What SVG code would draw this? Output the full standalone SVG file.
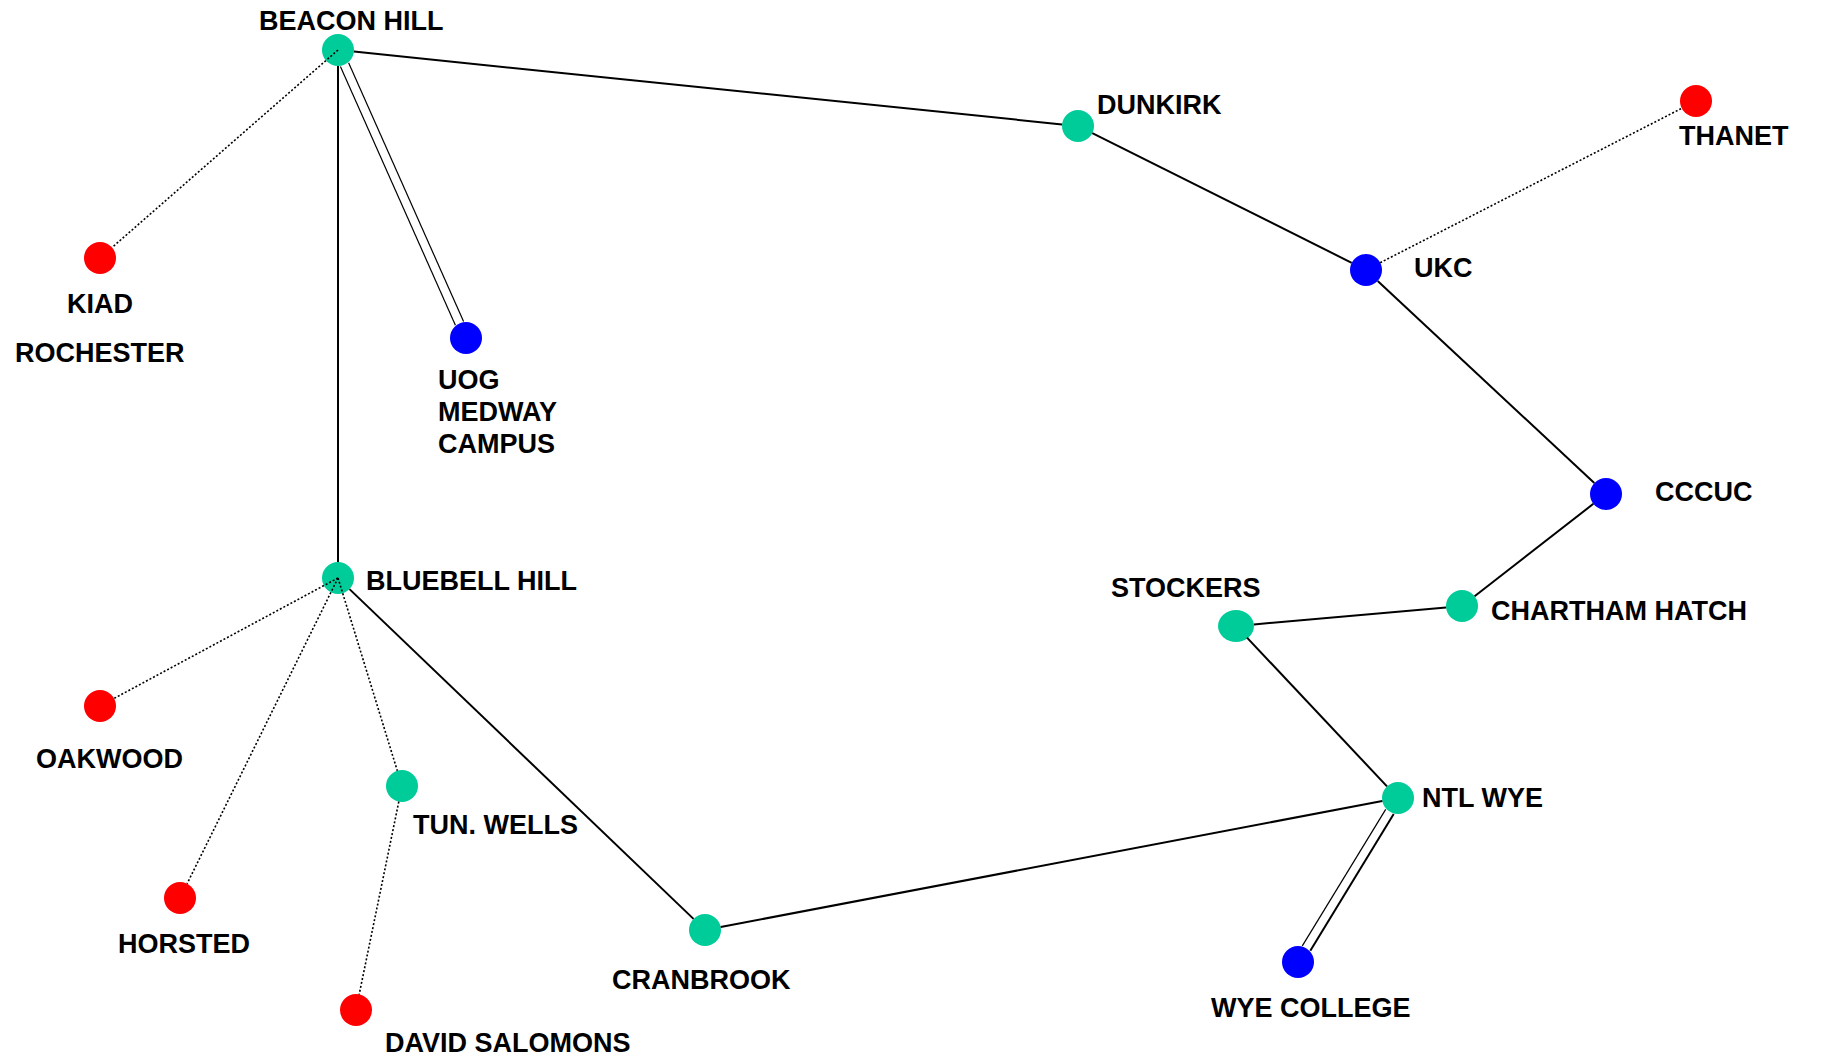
<svg xmlns="http://www.w3.org/2000/svg" width="1822" height="1060" viewBox="0 0 1822 1060">
<style>
text{font-family:"Liberation Sans",Arial,sans-serif;font-weight:bold;font-size:27px;fill:#000}
.g{fill:#00CC99}.r{fill:#FF0000}.b{fill:#0000FF}
.s{stroke:#000;stroke-width:2;fill:none}
.t{stroke:#000;stroke-width:1.2;fill:none}
.d{stroke:#000;stroke-width:1.6;stroke-dasharray:2 2;fill:none}
</style>
<rect width="1822" height="1060" fill="#fff"/>
<g id="nodes">
<g id="beacon-hill"><circle class="g" cx="338" cy="50" r="16"/><text x="259" y="30">BEACON HILL</text></g>
<g id="kiad"><circle class="r" cx="100" cy="258" r="16"/><text x="67" y="313">KIAD</text><text x="15" y="362">ROCHESTER</text></g>
<g id="uog"><circle class="b" cx="466" cy="338" r="16"/><text x="438" y="389">UOG</text><text x="438" y="421">MEDWAY</text><text x="438" y="453">CAMPUS</text></g>
<g id="dunkirk"><circle class="g" cx="1078" cy="126" r="16"/><text x="1097" y="114">DUNKIRK</text></g>
<g id="thanet"><circle class="r" cx="1696" cy="101" r="16"/><text x="1679" y="145">THANET</text></g>
<g id="ukc"><circle class="b" cx="1366" cy="270" r="16"/><text x="1414" y="277">UKC</text></g>
<g id="cccuc"><circle class="b" cx="1606" cy="494" r="16"/><text x="1655" y="501">CCCUC</text></g>
<g id="chartham-hatch"><circle class="g" cx="1462" cy="606" r="16"/><text x="1491" y="620">CHARTHAM HATCH</text></g>
<g id="stockers"><ellipse class="g" cx="1236" cy="626" rx="18" ry="16"/><text x="1111" y="597">STOCKERS</text></g>
<g id="ntl-wye"><circle class="g" cx="1398" cy="798" r="16"/><text x="1422" y="807">NTL WYE</text></g>
<g id="wye-college"><circle class="b" cx="1298" cy="962" r="16"/><text x="1211" y="1017">WYE COLLEGE</text></g>
<g id="cranbrook"><circle class="g" cx="705" cy="930" r="16"/><text x="612" y="989">CRANBROOK</text></g>
<g id="bluebell-hill"><circle class="g" cx="338" cy="578" r="16"/><text x="366" y="590">BLUEBELL HILL</text></g>
<g id="oakwood"><circle class="r" cx="100" cy="706" r="16"/><text x="36" y="768">OAKWOOD</text></g>
<g id="tun-wells"><circle class="g" cx="402" cy="786" r="16"/><text x="413" y="834">TUN. WELLS</text></g>
<g id="horsted"><circle class="r" cx="180" cy="898" r="16"/><text x="118" y="953">HORSTED</text></g>
<g id="david-salomons"><circle class="r" cx="356" cy="1010" r="16"/><text x="385" y="1052">DAVID SALOMONS</text></g>
</g>
<g id="connectors">
<line class="s" x1="353.9" y1="51.6" x2="1062.1" y2="124.4"/>
<line class="s" x1="1092.3" y1="133.2" x2="1351.7" y2="262.8"/>
<line class="s" x1="1377.7" y1="280.9" x2="1594.3" y2="483.1"/>
<line class="s" x1="1593.4" y1="503.8" x2="1474.6" y2="596.2"/>
<line class="s" x1="1446.1" y1="607.4" x2="1253.9" y2="624.4"/>
<line class="s" x1="1247" y1="637.6" x2="1387" y2="786.4"/>
<line class="s" x1="1382.3" y1="801" x2="720.7" y2="927"/>
<line class="s" x1="693.5" y1="918.9" x2="349.5" y2="589.1"/>
<line class="s" x1="338" y1="562" x2="338" y2="66"/>
<line class="t" x1="340.4" y1="66.4" x2="455.4" y2="325.2"/>
<line class="t" x1="348.6" y1="62.8" x2="463.6" y2="321.6"/>
<line class="t" x1="1385.7" y1="809.4" x2="1302.3" y2="945.9"/>
<line class="s" x1="1393.7" y1="814.1" x2="1310.3" y2="950.7"/>
<line class="d" x1="338" y1="50" x2="112" y2="247.5"/>
<line class="d" x1="1380.2" y1="262.7" x2="1681.8" y2="108.3"/>
<line class="d" x1="338" y1="578" x2="114.1" y2="698.4"/>
<line class="d" x1="338" y1="578" x2="187.1" y2="883.7"/>
<line class="d" x1="338" y1="578" x2="397.3" y2="770.7"/>
<line class="d" x1="398.8" y1="801.7" x2="359.2" y2="994.3"/>
</g>
</svg>
